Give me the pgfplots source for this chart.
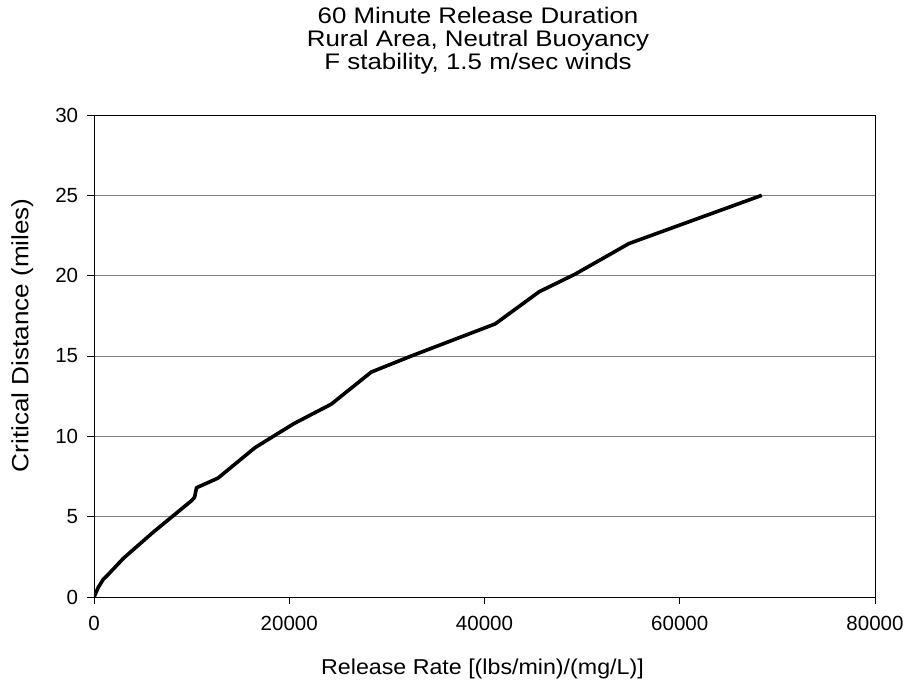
\documentclass[border=0pt]{standalone}
\usepackage{fontspec}
\setmainfont{Liberation Sans}
\usepackage{pgfplots}
\pgfplotsset{compat=1.18}
\begin{document}
\begin{tikzpicture}
\fontsize{20}{22.5}\selectfont
\path[use as bounding box] (-94pt,-84pt) rectangle (812pt,597pt);
\begin{axis}[
  at={(0pt,0pt)}, anchor=south west,
  scale only axis, width=781pt, height=482pt,
  xmin=0, xmax=80000, ymin=0, ymax=30,
  xtick={0,20000,40000,60000,80000},
  ytick={0,5,10,15,20,25,30},
  scaled x ticks=false,
  /pgf/number format/.cd, fixed, 1000 sep={}, assume math mode=true,
  /pgfplots/.cd,
  tick align=outside, tick pos=left,
  major tick length=7pt,
  tick style={black, line width=0.8pt},
  axis line style={black, line width=0.9pt},
  ymajorgrids, grid style={gray, line width=0.9pt},
  ticklabel style={font=\fontsize{20.5}{22}\selectfont},
  xticklabel style={yshift=-5pt},
  yticklabel style={xshift=-2pt},
  xlabel={\scalebox{1.08}[1]{Release Rate [(lbs/min)/(mg/L)]}},
  ylabel={\scalebox{1.11}[1]{Critical Distance (miles)}},
  xlabel style={at={(axis description cs:0.4974,-0.1618)}, anchor=base, inner sep=0pt, font=\fontsize{21.5}{23}\selectfont},
  ylabel style={at={(axis description cs:-0.0841,0.543)}, anchor=base, inner sep=0pt, font=\fontsize{23.5}{25}\selectfont},
  title={\scalebox{1.15}[1]{60 Minute Release Duration}\\\scalebox{1.15}[1]{Rural Area, Neutral Buoyancy}\\\scalebox{1.15}[1]{F stability, 1.5 m/sec winds}},
  title style={at={(axis description cs:0.4917,1.2116)}, anchor=north, inner sep=0pt, align=center, font=\fontsize{22.5}{23}\selectfont},
]
\addplot[black, line width=3.6pt, line join=round] coordinates {
(0,0) (440,0.6) (950,1.1) (1300,1.3) (3000,2.4) (6000,4) (8000,5) (10000,6)
(10300,6.2) (10500,6.8) (12700,7.4) (16500,9.3) (20500,10.8) (24300,12)
(28400,14) (32500,15) (41100,17) (45600,19) (49300,20.1) (54800,22) (68400,25)
};
\end{axis}
\end{tikzpicture}
\end{document}
